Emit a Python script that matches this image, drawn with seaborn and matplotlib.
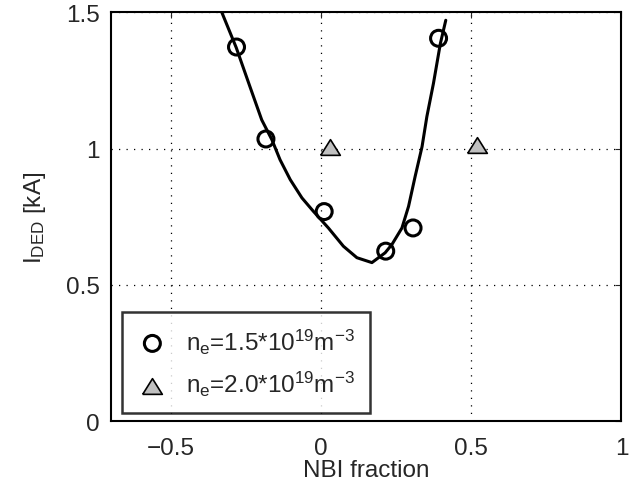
import numpy as np
import pandas as pd
import matplotlib
matplotlib.use("Agg")
import matplotlib.pyplot as plt
import seaborn as sns

# --- data ---
nbi_15 = [-0.282, -0.184, 0.010, 0.215, 0.306, 0.391]
ided_15 = [1.372, 1.035, 0.769, 0.624, 0.709, 1.404]
nbi_20 = [0.030, 0.520]
ided_20 = [1.005, 1.014]
fit_x = [-0.335, -0.283, -0.237, -0.198, -0.164, -0.137, -0.103, -0.064,
         -0.026, 0.024, 0.074, 0.119, 0.169, 0.213, 0.236, 0.269, 0.291,
         0.313, 0.336, 0.352, 0.374, 0.397, 0.415]
fit_y = [1.51, 1.37, 1.226, 1.105, 1.032, 0.959, 0.886, 0.819,
         0.770, 0.709, 0.642, 0.600, 0.582, 0.618, 0.649, 0.709, 0.788,
         0.898, 1.007, 1.117, 1.239, 1.385, 1.47]
x_ticks = [-0.5, 0, 0.5, 1]
x_tick_labels = ["\u22120.5", "0", "0.5", "1"]
y_ticks = [0, 0.5, 1, 1.5]
y_tick_labels = ["0", "0.5", "1", "1.5"]
label_15 = r"n$_\mathregular{e}$=1.5*10$^\mathregular{19}$m$^\mathregular{-3}$"
label_20 = r"n$_\mathregular{e}$=2.0*10$^\mathregular{19}$m$^\mathregular{-3}$"

sns.set_style("white")
plt.rcParams["font.family"] = ["Liberation Sans", "DejaVu Sans"]
plt.rcParams["mathtext.default"] = "regular"

FS = 17.5
fig = plt.figure(figsize=(6.38, 4.85), dpi=100)
ax = fig.add_axes([0.174, 0.129, 0.800, 0.844])

fit_df = pd.DataFrame({"x": fit_x, "y": fit_y})
sns.lineplot(data=fit_df, x="x", y="y", sort=False, estimator=None,
             color="black", linewidth=2.2, ax=ax, legend=False, zorder=3)

sns.scatterplot(x=nbi_15, y=ided_15, marker="o", s=132, color="black",
                facecolors="none", edgecolors="black", linewidth=2.2,
                ax=ax, label=label_15, zorder=4)
tri = [(-1, -0.8), (1, -0.8), (0, 0.8), (-1, -0.8)]
sns.scatterplot(x=nbi_20, y=ided_20, marker=tri, s=200, color="#c0c0c0",
                facecolors="#c0c0c0", edgecolors="black", linewidth=1.2,
                ax=ax, label=label_20, zorder=4)

ax.set_xlim(-0.7, 1.0)
ax.set_ylim(0, 1.5)
ax.set_xticks(x_ticks)
ax.set_xticklabels(x_tick_labels)
ax.set_yticks(y_ticks)
ax.set_yticklabels(y_tick_labels)
ax.tick_params(direction="in", length=4, width=0.8, labelsize=FS,
               top=True, right=True, pad=8)
ax.tick_params(axis="x", pad=11)
ax.grid(True, linestyle=(0, (1, 5)), color="black", linewidth=0.9)
for sp in ax.spines.values():
    sp.set_visible(True)
    sp.set_color("black")
    sp.set_linewidth(1.5)
ax.set_axisbelow(True)

ax.set_xlabel("NBI fraction", fontsize=FS, labelpad=0)
ax.set_ylabel(r"I$_\mathregular{DED}$ [kA]", fontsize=FS, labelpad=13)

leg = ax.legend(loc="lower left", bbox_to_anchor=(0.0215, 0.021),
                borderaxespad=0, fontsize=FS, frameon=True, fancybox=False,
                handletextpad=0.75, borderpad=0.6, labelspacing=0.55,
                handlelength=1.3)
leg.get_frame().set_edgecolor("black")
leg.get_frame().set_linewidth(1.8)

fig.savefig("out.png", dpi=100)
